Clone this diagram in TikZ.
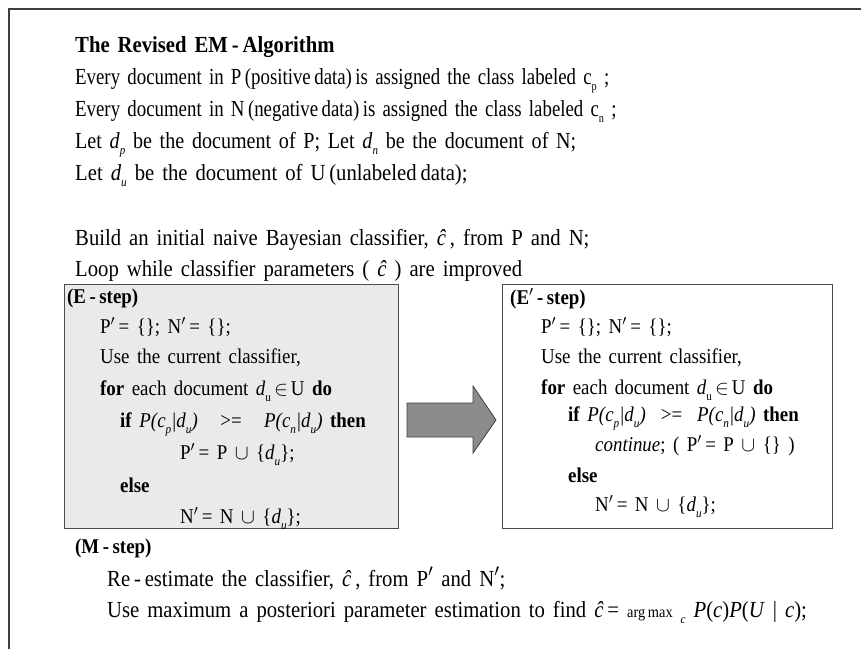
\documentclass[tikz,border=0pt]{standalone}
\usepackage{fontspec}
\setmainfont{Liberation Serif}[FakeStretch=0.9]
\newcommand\sbx[1]{\raisebox{-0.3em}{\fontsize{12.5}{12.5}\selectfont #1}}
\newcommand\pr{\ensuremath{'}}
\newcommand\chat{\textit{\^c}}
\newcommand\txtfont{\fontsize{21}{25}\selectfont\spaceskip=7.5pt plus 1pt\relax}
\newcommand\bigfont{\fontsize{23}{27}\selectfont\spaceskip=8pt plus 1pt\relax}
\tikzset{
  txt/.style={inner sep=0pt, anchor=base west, font=\txtfont},
  main/.style={inner sep=0pt, anchor=base west, font=\bigfont},
  frame/.style={draw=black!75, line width=1.8pt},
  stepbox/.style={draw=black!70, line width=0.9pt},
}
\begin{document}
\begin{tikzpicture}[x=1pt,y=-1pt]
\useasboundingbox (0,0) rectangle (861,649);
% outer frame (top and left edges)
\coordinate (fc) at (9,9);
\coordinate (fr) at (861,9);
\coordinate (fb) at (9,649);
\draw[frame] (fr) -- (fc) -- (fb);
% boxes
\draw[stepbox, fill={rgb,255:red,234;green,234;blue,234}] (64,284) rectangle (398,528);
\draw[stepbox, fill=white] (502,284) rectangle (832,528);
% arrow
\draw[draw=black!75, line width=0.8pt, fill={rgb,255:red,140;green,140;blue,140}]
  (407,403) -- (473,403) -- (473,386) -- (496,420) -- (473,453) -- (473,437) -- (407,437) -- cycle;
% header text
\node[main] (t0) at (75,52) {\textbf{The Revised\ EM\,-\,Algorithm}};
\node[main] (t1) at (75,84) {\scalebox{0.91}[1]{Every document in P\,(positive\,data)\,is assigned the class labeled c\sbx{p} ;}};
\node[main] (t2) at (75,116) {\scalebox{0.91}[1]{Every document in N\,(negative\,data)\,is assigned the class labeled c\sbx{n} ;}};
\node[main] (t3) at (75,148) {\scalebox{0.97}[1]{Let \textit{d}\sbx{\textit{p}} be the document of P; Let \textit{d}\sbx{\textit{n}} be the document of N;}};
\node[main] (t4) at (75,180) {Let \textit{d}\sbx{\textit{u}} be the document of U\,(unlabeled\,data);};
\node[main] (t5) at (75,245) {Build an initial naive Bayesian classifier, \chat\,, from P and N;};
\node[main] (t6) at (75,276) {Loop while classifier parameters ( \chat\ ) are improved};
% E-step
\node[txt] (e0) at (67,303) {\textbf{(E\,-\,step)}};
\node[txt] (e1) at (100,333) {P\pr\,= \{\}; N\pr\,= \{\};};
\node[txt] (e2) at (100,363) {Use the current classifier,};
\node[txt] (e3) at (100,395) {\textbf{for} each document \textit{d}\sbx{u}\hspace{3pt}$\in$\hspace{3pt}U \textbf{do}};
\node[txt] (e4) at (120,427) {\textbf{if} \textit{P(c\sbx{p}|d\sbx{u})}\ \ \ >=\ \ \ \textit{P(c\sbx{n}|d\sbx{u})} \textbf{then}};
\node[txt] (e5) at (180,459) {P\pr\,= P $\cup$ \{\textit{d}\sbx{\textit{u}}\};};
\node[txt] (e6) at (120,492) {\textbf{else}};
\node[txt] (e7) at (180,523) {N\pr\,= N $\cup$ \{\textit{d}\sbx{\textit{u}}\};};
% E'-step
\node[txt] (f0) at (510,304) {\textbf{(E\pr\,-\,step)}};
\node[txt] (f1) at (541,333) {P\pr\,= \{\}; N\pr\,= \{\};};
\node[txt] (f2) at (541,363) {Use the current classifier,};
\node[txt] (f3) at (541,394) {\textbf{for} each document \textit{d}\sbx{u}\hspace{3pt}$\in$\hspace{3pt}U \textbf{do}};
\node[txt] (f4) at (568,421) {\textbf{if} \textit{P(c\sbx{p}|d\sbx{u})}\ \ >=\ \ \textit{P(c\sbx{n}|d\sbx{u})} \textbf{then}};
\node[txt] (f5) at (595,451) {\textit{continue}; ( P\pr\,= P $\cup$ \{\} )};
\node[txt] (f6) at (568,482) {\textbf{else}};
\node[txt] (f7) at (595,511) {N\pr\,= N $\cup$ \{\textit{d}\sbx{\textit{u}}\};};
% M-step
\node[txt] (m0) at (75,553) {\textbf{(M\,-\,step)}};
\node[main] (m1) at (107,586) {Re\,-\,estimate the classifier, \chat\,, from P\pr\ and N\pr;};
\node[main] (m2) at (107,617) {Use maximum a posteriori parameter estimation to find \chat\,= {\fontsize{16}{16}\selectfont arg\,max} \sbx{\textit{c}} \textit{P}(\textit{c})\textit{P}(\textit{U} | \textit{c});};
\end{tikzpicture}
\end{document}
